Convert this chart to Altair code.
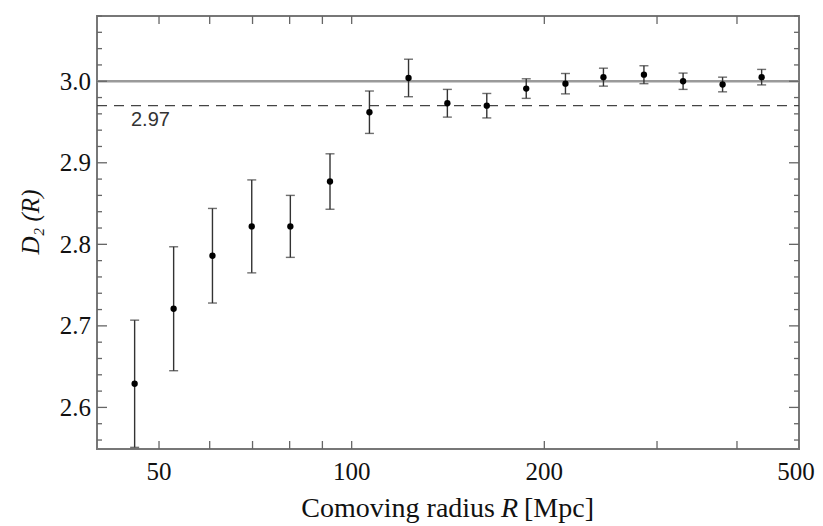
import altair as alt
import pandas as pd

# ---- data ----
radius = [45.8, 52.7, 60.6, 69.8, 80.2, 92.5, 106.6, 122.7, 141.1, 162.6,
          187.4, 215.8, 247.4, 286.2, 329.5, 379.8, 437.1]
d2 = [2.629, 2.721, 2.786, 2.822, 2.822, 2.877, 2.962, 3.004, 2.973, 2.970,
      2.991, 2.997, 3.005, 3.008, 3.000, 2.996, 3.005]
err = [0.078, 0.076, 0.058, 0.057, 0.038, 0.034, 0.026, 0.023, 0.017, 0.015,
       0.012, 0.0125, 0.011, 0.011, 0.010, 0.009, 0.0095]

ref_solid = [3.0]
ref_dashed = [2.97]
dashed_label = ["2.97"]
label_x = [45.2]

x_label_values = [50, 100, 200, 500]
x_tick_values = [50, 60, 70, 80, 90, 100, 200, 300, 400]
y_label_values = [2.6, 2.7, 2.8, 2.9, 3.0]
y_minor_values = [2.56, 2.58, 2.62, 2.64, 2.66, 2.68, 2.72, 2.74, 2.76, 2.78,
                  2.82, 2.84, 2.86, 2.88, 2.92, 2.94, 2.96, 2.98,
                  3.02, 3.04, 3.06, 3.08]

x_title_parts = ["Comoving radius", "R", "[Mpc]"]
y_title = "D₂ (R)"

W, H = 702, 433
serif = "Liberation Serif, Times New Roman, serif"
ink = "#111"

df = pd.DataFrame({"R": radius, "D2": d2, "err": err})
df["lo"] = df["D2"] - df["err"]
df["hi"] = df["D2"] + df["err"]

xscale = alt.Scale(type="log", domain=[40, 500], nice=False)
yscale = alt.Scale(domain=[2.549, 3.080], nice=False, zero=False)


def X(field):
    return alt.X(field, type="quantitative", scale=xscale, axis=None)


def Y(field):
    return alt.Y(field, type="quantitative", scale=yscale, axis=None)


base = alt.Chart(df)

bars = base.mark_rule(color="#333", strokeWidth=1.4).encode(
    x=X("R"), y=Y("lo"), y2="hi")
cap_lo = base.mark_tick(color="#333", thickness=1.4, size=9, orient="horizontal").encode(
    x=X("R"), y=Y("lo"))
cap_hi = base.mark_tick(color="#333", thickness=1.4, size=9, orient="horizontal").encode(
    x=X("R"), y=Y("hi"))
pts = base.mark_circle(color="black", size=40, opacity=1).encode(
    x=X("R"), y=Y("D2"))

solid = alt.Chart(pd.DataFrame({"v": ref_solid})).mark_rule(
    color="#9a9a9a", strokeWidth=2.5).encode(
    y=Y("v"), x=alt.value(0), x2=alt.value(W))
dashed = alt.Chart(pd.DataFrame({"v": ref_dashed})).mark_rule(
    color="#444", strokeWidth=1.3, strokeDash=[10, 7]).encode(
    y=Y("v"), x=alt.value(0), x2=alt.value(W))
lab = alt.Chart(pd.DataFrame({"v": ref_dashed, "x": label_x, "t": dashed_label})).mark_text(
    font="Liberation Sans", fontSize=20, color="#333", align="left",
    baseline="middle", dy=14).encode(x=X("x"), y=Y("v"), text="t:N")

# ticks (inward, frame style)
xt = pd.DataFrame({"xt": x_tick_values})
tick_col = "#666"
xt_bot = alt.Chart(xt).mark_rule(color=tick_col, strokeWidth=1.3).encode(
    x=X("xt"), y=alt.value(H), y2=alt.value(H - 8))
xt_top = alt.Chart(xt).mark_rule(color=tick_col, strokeWidth=1.3).encode(
    x=X("xt"), y=alt.value(0), y2=alt.value(8))

ymaj = pd.DataFrame({"yt": y_label_values})
ymin = pd.DataFrame({"yt": y_minor_values})
yl_maj = alt.Chart(ymaj).mark_rule(color=tick_col, strokeWidth=1.3).encode(
    y=Y("yt"), x=alt.value(0), x2=alt.value(10))
yl_min = alt.Chart(ymin).mark_rule(color=tick_col, strokeWidth=1.3).encode(
    y=Y("yt"), x=alt.value(0), x2=alt.value(5))
yr_maj = alt.Chart(ymaj).mark_rule(color=tick_col, strokeWidth=1.3).encode(
    y=Y("yt"), x=alt.value(W), x2=alt.value(W - 10))
yr_min = alt.Chart(ymin).mark_rule(color=tick_col, strokeWidth=1.3).encode(
    y=Y("yt"), x=alt.value(W), x2=alt.value(W - 5))

# tick labels
xl_df = pd.DataFrame({"xl": x_label_values})
xl = alt.Chart(xl_df).transform_filter("datum.xl < 500").mark_text(
    font=serif, fontSize=25, color=ink, align="center", baseline="alphabetic"
).encode(x=X("xl"), y=alt.value(H + 31), text=alt.Text("xl:Q", format="d"))
xl_last = alt.Chart(xl_df).transform_filter("datum.xl >= 500").mark_text(
    font=serif, fontSize=25, color=ink, align="center", baseline="alphabetic", dx=-3
).encode(x=X("xl"), y=alt.value(H + 31), text=alt.Text("xl:Q", format="d"))
yl = alt.Chart(pd.DataFrame({"yl": y_label_values})).mark_text(
    font=serif, fontSize=25, color=ink, align="right", baseline="alphabetic", dy=8.5
).encode(y=Y("yl"), x=alt.value(-6), text=alt.Text("yl:Q", format=".1f"))

# axis titles
t1 = alt.Chart(pd.DataFrame({"t": [x_title_parts[0]]})).mark_text(
    font=serif, fontSize=28, color=ink, align="right", baseline="alphabetic"
).encode(x=alt.value(398), y=alt.value(H + 68), text="t:N")
t2 = alt.Chart(pd.DataFrame({"t": [x_title_parts[1]]})).mark_text(
    font=serif, fontSize=28, color=ink, align="left", baseline="alphabetic",
    fontStyle="italic"
).encode(x=alt.value(404), y=alt.value(H + 68), text="t:N")
t3 = alt.Chart(pd.DataFrame({"t": [x_title_parts[2]]})).mark_text(
    font=serif, fontSize=28, color=ink, align="left", baseline="alphabetic"
).encode(x=alt.value(427), y=alt.value(H + 68), text="t:N")
ty = alt.Chart(pd.DataFrame({"t": [y_title]})).mark_text(
    font=serif, fontSize=25, color=ink, align="center", baseline="middle",
    fontStyle="italic", angle=270
).encode(x=alt.value(-66), y=alt.value(206), text="t:N")

chart = alt.layer(
    solid, dashed, lab, bars, cap_lo, cap_hi, pts,
    xt_bot, xt_top, yl_maj, yl_min, yr_maj, yr_min,
    xl, xl_last, yl, t1, t2, t3, ty
).properties(
    width=W, height=H,
    autosize=alt.AutoSizeParams(type="none"),
    padding={"left": 89, "top": 8, "right": 16, "bottom": 76},
).configure_view(
    stroke="#777", strokeWidth=2
)

chart.save("out.html", embed_options={"renderer": "svg", "actions": False})
